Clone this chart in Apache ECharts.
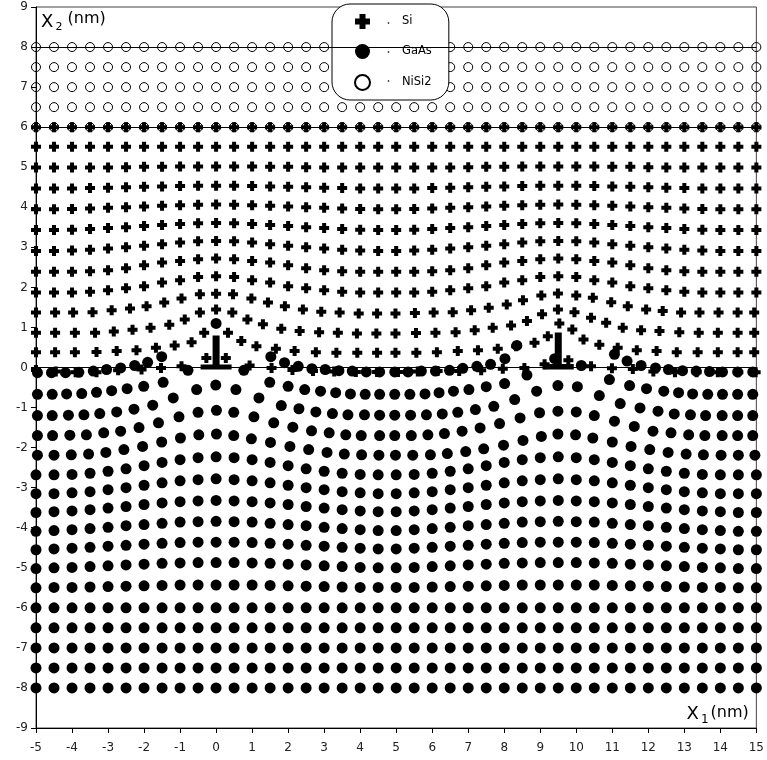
<!DOCTYPE html>
<html>
<head>
<meta charset="utf-8">
<script src="https://cdn.jsdelivr.net/npm/echarts@6/dist/echarts.min.js"></script>
<style>
  html, body { margin: 0; padding: 0; background: #fff; }
  #chart { width: 767px; height: 760px; }
</style>
</head>
<body>
<div id="chart"></div>
<script>
// Atom positions (nm) of a Si / GaAs / NiSi2 stack with two misfit dislocations at x1 = 0 and x1 = 9.5.

// Reference lattice columns (x1, nm) used by the rows that stay on the regular grid.
const COLS = [-5,-4.5,-4,-3.5,-3,-2.5,-2,-1.5,-1,-0.5,0,0.5,1,1.5,2,2.5,3,3.5,4,4.5,5,5.5,6,6.5,7,7.5,8,8.5,9,9.5,10,10.5,11,11.5,12,12.5,13,13.5,14,14.5,15];

// NiSi2 cap layer: flat rows (x2, nm)
const nisi2RowY = [6, 6.5, 7, 7.5, 8];

// Si layer: rows next to the interface, listed atom by atom [x1, x2]
const siRow0 = [[-5,-0.06],[-4.45,-0.1],[-3.9,-0.12],[-3.32,-0.12],[-2.72,-0.07],[-2.07,-0.05],[-1.53,-0.01],[-0.96,0.03],[-0.27,0.24],[0.27,0.24],[0.93,0.05],[1.54,-0.01],[2.12,-0.06],[2.69,-0.09],[3.28,-0.1],[3.88,-0.11],[4.47,-0.11],[5.05,-0.11],[5.6,-0.1],[6.15,-0.09],[6.75,-0.09],[7.36,-0.07],[7.96,-0.03],[8.56,-0.01],[9.12,0.08],[9.78,0.18],[10.41,0.03],[10.99,-0.02],[11.57,-0.04],[12.14,-0.1],[12.74,-0.12],[13.34,-0.12],[13.93,-0.12],[14.5,-0.12],[14.98,-0.12]];
const siRow1 = [[-5,0.38],[-4.47,0.38],[-3.92,0.38],[-3.32,0.39],[-2.76,0.41],[-2.21,0.43],[-1.67,0.49],[-1.15,0.55],[-0.68,0.63],[-0.33,0.87],[0.33,0.87],[0.7,0.66],[1.12,0.53],[1.66,0.47],[2.18,0.41],[2.77,0.38],[3.34,0.37],[3.92,0.37],[4.47,0.37],[4.98,0.37],[5.56,0.37],[6.13,0.38],[6.71,0.41],[7.27,0.43],[7.82,0.47],[8.33,0.53],[8.84,0.62],[9.21,0.78],[9.53,1.1],[9.89,0.95],[10.2,0.7],[10.64,0.57],[11.15,0.49],[11.68,0.43],[12.23,0.41],[12.79,0.38],[13.37,0.38],[13.93,0.38],[14.48,0.38],[14.94,0.38]];
const siRow2 = [[-5,0.87],[-4.47,0.87],[-3.92,0.87],[-3.36,0.87],[-2.84,0.9],[-2.32,0.94],[-1.82,0.99],[-1.3,1.07],[-0.87,1.2],[-0.45,1.37],[0,1.45],[0.45,1.37],[0.87,1.2],[1.3,1.08],[1.81,0.97],[2.32,0.91],[2.86,0.88],[3.38,0.87],[3.91,0.85],[4.45,0.85],[4.98,0.85],[5.55,0.86],[6.09,0.87],[6.65,0.88],[7.18,0.93],[7.68,0.99],[8.19,1.05],[8.63,1.16],[9.05,1.33],[9.49,1.45],[9.95,1.38],[10.41,1.24],[10.83,1.12],[11.29,0.99],[11.8,0.93],[12.31,0.91],[12.86,0.88],[13.4,0.87],[13.93,0.87],[14.48,0.87],[14.94,0.87]];
const siRow3 = [[-5,1.37],[-4.47,1.37],[-3.97,1.37],[-3.43,1.38],[-2.9,1.43],[-2.39,1.47],[-1.93,1.53],[-1.44,1.62],[-0.96,1.72],[-0.45,1.83],[0,1.84],[0.47,1.83],[0.98,1.72],[1.44,1.62],[1.91,1.53],[2.41,1.45],[2.92,1.39],[3.43,1.37],[3.96,1.35],[4.47,1.35],[4.98,1.35],[5.52,1.36],[6.04,1.37],[6.57,1.38],[7.08,1.43],[7.57,1.49],[8.07,1.57],[8.52,1.68],[9.03,1.8],[9.49,1.85],[10.0,1.8],[10.46,1.74],[10.97,1.63],[11.43,1.53],[11.94,1.45],[12.4,1.41],[12.91,1.37],[13.42,1.37],[13.95,1.37],[14.48,1.37],[14.94,1.37]];

// Si layer: upper rows on the regular columns, x2 per column
const siRow4Y = [1.87,1.87,1.87,1.89,1.93,1.98,2.03,2.12,2.18,2.26,2.28,2.26,2.18,2.12,2.03,1.98,1.93,1.89,1.87,1.87,1.87,1.87,1.89,1.93,1.98,2.03,2.12,2.18,2.26,2.28,2.26,2.18,2.12,2.03,1.98,1.93,1.89,1.87,1.87,1.87,1.87];
const siRow5Y = [2.39,2.39,2.39,2.40,2.43,2.48,2.55,2.62,2.66,2.70,2.72,2.70,2.66,2.62,2.55,2.48,2.43,2.40,2.39,2.39,2.39,2.39,2.40,2.43,2.48,2.55,2.62,2.66,2.70,2.72,2.70,2.66,2.62,2.55,2.48,2.43,2.40,2.39,2.39,2.39,2.39];
const siRow6Y = [2.91,2.91,2.92,2.94,2.97,3.00,3.04,3.08,3.12,3.15,3.16,3.15,3.12,3.08,3.04,3.00,2.97,2.94,2.92,2.91,2.91,2.92,2.94,2.97,3.00,3.04,3.08,3.12,3.15,3.16,3.15,3.12,3.08,3.04,3.00,2.97,2.94,2.92,2.91,2.91,2.91];
const siRow7Y = [3.43,3.43,3.44,3.46,3.48,3.50,3.53,3.56,3.58,3.60,3.61,3.60,3.58,3.56,3.53,3.50,3.48,3.46,3.44,3.43,3.43,3.44,3.46,3.48,3.50,3.53,3.56,3.58,3.60,3.61,3.60,3.58,3.56,3.53,3.50,3.48,3.46,3.44,3.43,3.43,3.43];
const siRow8Y = [3.95,3.95,3.96,3.97,3.99,4.00,4.02,4.04,4.05,4.06,4.07,4.06,4.05,4.04,4.02,4.00,3.99,3.97,3.96,3.95,3.95,3.96,3.97,3.99,4.00,4.02,4.04,4.05,4.06,4.07,4.06,4.05,4.04,4.02,4.00,3.99,3.97,3.96,3.95,3.95,3.95];
const siRow9Y = [4.47,4.47,4.47,4.48,4.49,4.50,4.51,4.52,4.53,4.54,4.54,4.54,4.53,4.52,4.51,4.50,4.49,4.48,4.47,4.47,4.47,4.47,4.48,4.49,4.50,4.51,4.52,4.53,4.54,4.54,4.54,4.53,4.52,4.51,4.50,4.49,4.48,4.47,4.47,4.47,4.47];
const siRow10Y = [4.99,4.99,4.99,4.99,4.99,5.00,5.01,5.01,5.02,5.02,5.02,5.02,5.02,5.01,5.01,5.00,4.99,4.99,4.99,4.99,4.99,4.99,4.99,4.99,5.00,5.01,5.01,5.02,5.02,5.02,5.02,5.02,5.01,5.01,5.00,4.99,4.99,4.99,4.99,4.99,4.99];
const siFlatRowY = [5.51, 6.0];

// GaAs substrate: rows next to the interface, listed atom by atom [x1, x2]
const gaasRow0 = [[-4.96,-0.13],[-4.57,-0.13],[-4.18,-0.13],[-3.81,-0.12],[-3.41,-0.09],[-3.04,-0.05],[-2.65,-0.01],[-2.26,0.05],[-1.9,0.13],[-1.51,0.27],[-0.78,-0.07],[0,1.1],[0.77,-0.07],[1.52,0.27],[1.9,0.12],[2.28,0.03],[2.66,-0.03],[3.03,-0.05],[3.41,-0.08],[3.78,-0.09],[4.17,-0.11],[4.54,-0.11],[4.96,-0.11],[5.33,-0.11],[5.7,-0.09],[6.09,-0.09],[6.48,-0.07],[6.85,-0.02],[7.24,0.03],[7.62,0.08],[8.02,0.22],[8.35,0.55],[8.63,-0.19],[9.4,0.22],[10.14,0.05],[11.06,0.33],[11.41,0.16],[11.8,0.05],[12.2,-0.01],[12.56,-0.05],[12.95,-0.08],[13.33,-0.09],[13.7,-0.1],[14.06,-0.11],[14.48,-0.11],[14.9,-0.11]];
const gaasRow1 = [[-4.96,-0.67],[-4.55,-0.67],[-4.15,-0.66],[-3.73,-0.65],[-3.32,-0.62],[-2.9,-0.58],[-2.47,-0.53],[-2.01,-0.47],[-1.47,-0.37],[-0.54,-0.55],[-0.01,-0.44],[0.55,-0.55],[1.49,-0.37],[2.0,-0.47],[2.46,-0.55],[2.9,-0.59],[3.32,-0.63],[3.73,-0.66],[4.14,-0.67],[4.54,-0.67],[4.96,-0.67],[5.38,-0.67],[5.8,-0.66],[6.19,-0.63],[6.59,-0.59],[7.02,-0.55],[7.5,-0.48],[8.01,-0.4],[8.9,-0.59],[9.49,-0.45],[10.03,-0.48],[10.92,-0.3],[11.48,-0.45],[11.95,-0.53],[12.43,-0.59],[12.84,-0.63],[13.23,-0.66],[13.65,-0.67],[14.06,-0.67],[14.48,-0.67],[14.9,-0.67]];
const gaasRow2 = [[-4.96,-1.2],[-4.55,-1.2],[-4.1,-1.19],[-3.67,-1.18],[-3.23,-1.15],[-2.76,-1.11],[-2.28,-1.04],[-1.76,-0.94],[-1.19,-0.76],[1.19,-0.76],[1.81,-0.95],[2.3,-1.03],[2.77,-1.11],[3.23,-1.15],[3.66,-1.18],[4.12,-1.18],[4.54,-1.19],[4.96,-1.19],[5.4,-1.19],[5.84,-1.18],[6.28,-1.16],[6.71,-1.12],[7.2,-1.05],[7.71,-0.97],[8.29,-0.8],[10.64,-0.7],[11.22,-0.9],[11.77,-1.01],[12.27,-1.09],[12.72,-1.16],[13.17,-1.18],[13.59,-1.2],[14.05,-1.2],[14.48,-1.2],[14.9,-1.2]];
const gaasRow3 = [[-4.96,-1.7],[-4.54,-1.7],[-4.06,-1.69],[-3.6,-1.68],[-3.12,-1.63],[-2.65,-1.59],[-2.14,-1.5],[-1.6,-1.38],[-1.03,-1.23],[-0.5,-1.12],[0.01,-1.07],[0.49,-1.12],[1.05,-1.23],[1.6,-1.38],[2.13,-1.49],[2.65,-1.58],[3.14,-1.63],[3.6,-1.68],[4.03,-1.7],[4.54,-1.7],[4.96,-1.7],[5.42,-1.7],[5.88,-1.68],[6.34,-1.65],[6.83,-1.59],[7.33,-1.51],[7.87,-1.4],[8.44,-1.26],[8.98,-1.13],[9.49,-1.09],[10.0,-1.11],[10.5,-1.2],[11.06,-1.34],[11.61,-1.47],[12.13,-1.59],[12.63,-1.63],[13.12,-1.68],[13.57,-1.7],[14.05,-1.7],[14.48,-1.7],[14.9,-1.7]];
const gaasRow4 = [[-4.96,-2.19],[-4.5,-2.19],[-4.02,-2.18],[-3.54,-2.16],[-3.06,-2.12],[-2.56,-2.05],[-2.04,-1.97],[-1.51,-1.86],[-0.99,-1.76],[-0.48,-1.68],[0.01,-1.66],[0.49,-1.7],[0.98,-1.78],[1.51,-1.87],[2.05,-1.97],[2.57,-2.05],[3.08,-2.12],[3.56,-2.16],[4.04,-2.18],[4.52,-2.19],[4.98,-2.19],[5.46,-2.19],[5.95,-2.18],[6.42,-2.15],[6.93,-2.1],[7.43,-2.03],[7.98,-1.94],[8.52,-1.82],[9.03,-1.72],[9.49,-1.66],[9.98,-1.68],[10.46,-1.76],[11.0,-1.86],[11.52,-1.97],[12.04,-2.05],[12.55,-2.12],[13.05,-2.16],[13.53,-2.18],[14.02,-2.19],[14.5,-2.19],[14.96,-2.19]];

// GaAs substrate: deeper rows on the regular columns, x2 per column
const gaasRow5Y = [-2.68,-2.68,-2.67,-2.64,-2.59,-2.53,-2.45,-2.37,-2.30,-2.25,-2.23,-2.25,-2.30,-2.37,-2.45,-2.53,-2.59,-2.64,-2.67,-2.68,-2.68,-2.67,-2.64,-2.59,-2.53,-2.45,-2.37,-2.30,-2.25,-2.23,-2.25,-2.30,-2.37,-2.45,-2.53,-2.59,-2.64,-2.67,-2.68,-2.68,-2.68];
const gaasRow6Y = [-3.15,-3.15,-3.13,-3.10,-3.05,-3.00,-2.94,-2.88,-2.83,-2.80,-2.78,-2.80,-2.83,-2.88,-2.94,-3.00,-3.05,-3.10,-3.13,-3.15,-3.15,-3.13,-3.10,-3.05,-3.00,-2.94,-2.88,-2.83,-2.80,-2.78,-2.80,-2.83,-2.88,-2.94,-3.00,-3.05,-3.10,-3.13,-3.15,-3.15,-3.15];
const gaasRow7Y = [-3.62,-3.60,-3.58,-3.55,-3.51,-3.47,-3.42,-3.38,-3.35,-3.33,-3.32,-3.33,-3.35,-3.38,-3.42,-3.47,-3.51,-3.55,-3.58,-3.60,-3.60,-3.58,-3.55,-3.51,-3.47,-3.42,-3.38,-3.35,-3.33,-3.32,-3.33,-3.35,-3.38,-3.42,-3.47,-3.51,-3.55,-3.58,-3.60,-3.62,-3.62];
const gaasRow8Y = [-4.09,-4.07,-4.05,-4.02,-3.99,-3.95,-3.92,-3.89,-3.86,-3.85,-3.84,-3.85,-3.86,-3.89,-3.92,-3.95,-3.99,-4.02,-4.05,-4.07,-4.07,-4.05,-4.02,-3.99,-3.95,-3.92,-3.89,-3.86,-3.85,-3.84,-3.85,-3.86,-3.89,-3.92,-3.95,-3.99,-4.02,-4.05,-4.07,-4.09,-4.09];
const gaasRow9Y = [-4.55,-4.53,-4.51,-4.49,-4.46,-4.44,-4.41,-4.39,-4.37,-4.36,-4.36,-4.36,-4.37,-4.39,-4.41,-4.44,-4.46,-4.49,-4.51,-4.53,-4.53,-4.51,-4.49,-4.46,-4.44,-4.41,-4.39,-4.37,-4.36,-4.36,-4.36,-4.37,-4.39,-4.41,-4.44,-4.46,-4.49,-4.51,-4.53,-4.55,-4.55];
const gaasRow10Y = [-5.02,-5.00,-4.99,-4.97,-4.95,-4.93,-4.91,-4.89,-4.88,-4.87,-4.87,-4.87,-4.88,-4.89,-4.91,-4.93,-4.95,-4.97,-4.99,-5.00,-5.00,-4.99,-4.97,-4.95,-4.93,-4.91,-4.89,-4.88,-4.87,-4.87,-4.87,-4.88,-4.89,-4.91,-4.93,-4.95,-4.97,-4.99,-5.00,-5.02,-5.02];
const gaasRow11Y = [-5.50,-5.49,-5.49,-5.48,-5.47,-5.46,-5.45,-5.44,-5.43,-5.43,-5.43,-5.43,-5.43,-5.44,-5.45,-5.46,-5.47,-5.48,-5.49,-5.49,-5.49,-5.49,-5.48,-5.47,-5.46,-5.45,-5.44,-5.43,-5.43,-5.43,-5.43,-5.43,-5.44,-5.45,-5.46,-5.47,-5.48,-5.49,-5.49,-5.50,-5.50];
const gaasFlatRowY = [-6, -6.5, -7, -7.5, -8];

// Misfit dislocation cores [x1, x2]
const dislocations = [[0, 0], [9.5, 0]];

// Axis ticks
const xTicks = { min: -5, max: 15, step: 1 };
const yTicks = { min: -9, max: 9, step: 1 };

// ---- assemble series data ----
function onColumns(ys) {
  return COLS.map((x, i) => [x, Array.isArray(ys) ? ys[i] : ys]);
}
const siData = [].concat(
  siRow0, siRow1, siRow2, siRow3,
  onColumns(siRow4Y), onColumns(siRow5Y), onColumns(siRow6Y), onColumns(siRow7Y),
  onColumns(siRow8Y), onColumns(siRow9Y), onColumns(siRow10Y),
  ...siFlatRowY.map(onColumns)
);
const gaasData = [].concat(
  gaasRow0, gaasRow1, gaasRow2, gaasRow3, gaasRow4,
  onColumns(gaasRow5Y), onColumns(gaasRow6Y), onColumns(gaasRow7Y), onColumns(gaasRow8Y),
  onColumns(gaasRow9Y), onColumns(gaasRow10Y), onColumns(gaasRow11Y),
  ...gaasFlatRowY.map(onColumns)
);
const nisi2Data = [].concat(...nisi2RowY.map(onColumns));

const PLUS = 'path://M3,0H7V3H10V7H7V10H3V7H0V3H3Z';
const CORE = 'path://M12,0H19V29H31V34H0V29H12Z';
const FONT = 'DejaVu Sans';

const chart = echarts.init(document.getElementById('chart'), null, { renderer: 'canvas' });
chart.setOption({
  animation: false,
  backgroundColor: '#fff',
  grid: { left: 36, right: 10, top: 7, bottom: 32, show: true, borderColor: '#444', borderWidth: 1 },
  xAxis: {
    type: 'value', min: xTicks.min, max: xTicks.max, interval: xTicks.step,
    axisLine: { onZero: false, lineStyle: { color: '#000', width: 1 } },
    axisTick: { show: true, length: 5, lineStyle: { color: '#000' } },
    axisLabel: { margin: 14, fontSize: 12, fontFamily: FONT, color: '#222' },
    splitLine: { show: false }
  },
  yAxis: {
    type: 'value', min: yTicks.min, max: yTicks.max, interval: yTicks.step,
    axisLine: { onZero: false, lineStyle: { color: '#000', width: 1 } },
    axisTick: { show: true, length: 5, lineStyle: { color: '#000' } },
    axisLabel: { margin: 8, fontSize: 12, fontFamily: FONT, color: '#222' },
    splitLine: { show: false }
  },
  legend: {
    orient: 'vertical', left: 332, top: 4,
    itemWidth: 15, itemHeight: 15, itemGap: 15,
    padding: [10, 17, 9, 22],
    borderColor: '#000', borderWidth: 1, borderRadius: 18,
    backgroundColor: '#fff',
    textStyle: { fontSize: 11.5, fontFamily: FONT, color: '#000', padding: [0, 0, 0, 27] },
    data: [
      { name: 'Si', icon: PLUS },
      { name: 'GaAs', icon: 'circle' },
      { name: 'NiSi2', icon: 'circle' }
    ]
  },
  series: [
    {
      name: 'GaAs', type: 'scatter', data: gaasData,
      symbol: 'circle', symbolSize: 11,
      itemStyle: { color: '#000', opacity: 1 },
      z: 2
    },
    {
      name: 'Si', type: 'scatter', data: siData,
      symbol: PLUS, symbolSize: 10,
      itemStyle: { color: '#000', opacity: 1 },
      z: 3
    },
    {
      name: 'NiSi2', type: 'scatter', data: nisi2Data,
      symbol: 'circle', symbolSize: 9,
      itemStyle: { color: 'rgba(255,255,255,0)', borderColor: '#000', borderWidth: 1, opacity: 1 },
      z: 3,
      markLine: {
        silent: true, symbol: ['none', 'none'], label: { show: false },
        lineStyle: { color: '#000', width: 1.2, type: 'solid' },
        data: [{ yAxis: 0 }, { yAxis: 6 }, { yAxis: 8 }]
      }
    },
    {
      name: 'dislocation', type: 'scatter',
      data: dislocations.map((p, i) => ({
        value: p,
        symbolSize: i === 0 ? [31, 34] : [31, 37],
        symbolOffset: i === 0 ? [0, -15] : [0, -16.5]
      })),
      symbol: CORE,
      itemStyle: { color: '#000', opacity: 1 },
      z: 4
    }
  ],
  graphic: [
    { type: 'text', left: 41, top: 13, z: 10, style: { text: 'X', font: '18px "DejaVu Sans"', fill: '#000' } },
    { type: 'text', left: 55.5, top: 22, z: 10, style: { text: '2', font: '11px "DejaVu Sans"', fill: '#000' } },
    { type: 'text', left: 67.5, top: 11, z: 10, style: { text: '(nm)', font: '16px "DejaVu Sans"', fill: '#000' } },
    { type: 'text', left: 686.5, top: 705, z: 10, style: { text: 'X', font: '18px "DejaVu Sans"', fill: '#000' } },
    { type: 'text', left: 701, top: 714, z: 10, style: { text: '1', font: '12px "DejaVu Sans"', fill: '#000' } },
    { type: 'text', left: 710.5, top: 705, z: 10, style: { text: '(nm)', font: '16px "DejaVu Sans"', fill: '#000' } },
    // small connector dots inside the legend box
    { type: 'circle', shape: { cx: 388.5, cy: 23, r: 0.9 }, style: { fill: '#444' }, z: 100, zlevel: 1 },
    { type: 'circle', shape: { cx: 388.5, cy: 52, r: 0.9 }, style: { fill: '#444' }, z: 100, zlevel: 1 },
    { type: 'circle', shape: { cx: 388.5, cy: 81, r: 0.9 }, style: { fill: '#444' }, z: 100, zlevel: 1 }
  ]
});
</script>
</body>
</html>
